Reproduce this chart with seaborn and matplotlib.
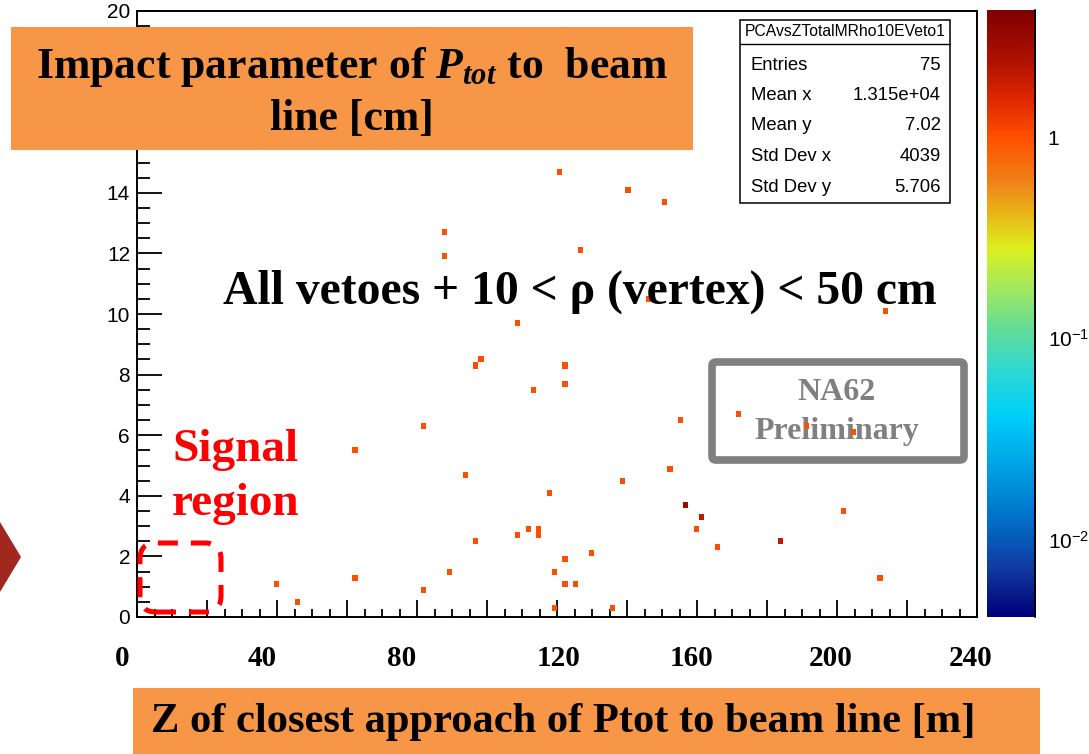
import numpy as np
import matplotlib
matplotlib.use("Agg")
import matplotlib.pyplot as plt
import seaborn as sns
from matplotlib.colors import LogNorm, LinearSegmentedColormap
from matplotlib.patches import Rectangle, FancyBboxPatch, Polygon
from matplotlib.lines import Line2D
from matplotlib.ticker import MultipleLocator, LogLocator, NullFormatter
from matplotlib.transforms import ScaledTranslation

# ---------------- data ----------------
# Z of closest approach [m]
z_m = [100.6, 121.1, 140.3, 150.3, 127.1, 87.4, 87.4, 108.0, 98.3, 97.1,
       112.9, 81.4, 62.0, 93.4, 96.0, 108.0, 111.7, 114.0, 115.1, 89.7,
       62.0, 39.1, 82.3, 45.4, 122.3, 122.3, 155.1, 172.0, 190.6, 205.4,
       214.3, 146.6, 152.6, 138.3, 117.7,
       157.4, 157.4, 157.4,
       160.9, 160.9,
       159.7, 165.7,
       184.0, 184.0,
       202.0, 211.7, 129.7, 122.3, 118.9, 122.3, 124.9, 118.9, 135.7]
# impact parameter [cm]
pca_cm = [15.48, 14.69, 14.09, 13.70, 12.08, 12.71, 11.88, 9.67, 8.48, 8.28,
          7.46, 6.27, 5.45, 4.65, 2.48, 2.67, 2.87, 2.87, 2.67, 1.49,
          1.29, 1.09, 0.89, 0.46, 8.28, 7.66, 6.47, 6.77, 6.27, 6.07,
          10.10, 10.53, 4.88, 4.49, 4.09,
          3.66, 3.66, 3.66,
          3.30, 3.30,
          2.87, 2.28,
          2.48, 2.48,
          3.50, 1.29, 2.08, 1.88, 1.49, 1.09, 1.09, 0.26, 0.26]

xtick_vals = [0, 40, 80, 120, 160, 200, 240]
xtick_labels = ["0", "40", "80", "120", "160", "200", "240"]
ytick_vals = [0, 2, 4, 6, 8, 10, 12, 14, 16, 18, 20]
# 16 and 18 are hidden behind the title box in the reference
ytick_labels = ["0", "2", "4", "6", "8", "10", "12", "14", "", "", "20"]
cbar_ticks = [0.01, 0.1, 1]
cbar_labels = [r"$10^{-2}$", r"$10^{-1}$", "1"]
hist_name = "PCAvsZTotalMRho10EVeto1"
stats_names = ["Entries", "Mean x", "Mean y", "Std Dev x", "Std Dev y"]
stats_values = ["75", "1.315e+04", "7.02", "4039", "5.706"]

# ---------------- style ----------------
sns.set_style("ticks")
plt.rcParams["font.family"] = ["Liberation Sans", "DejaVu Sans"]
plt.rcParams["mathtext.fontset"] = "custom"
plt.rcParams["mathtext.rm"] = "Liberation Sans"
plt.rcParams["mathtext.it"] = "Liberation Serif:italic:bold"
plt.rcParams["mathtext.bf"] = "Liberation Serif:bold"
for k in ["text.color", "axes.labelcolor", "xtick.color", "ytick.color",
          "axes.edgecolor"]:
    plt.rcParams[k] = "black"

W, H = 1089, 754
fig = plt.figure(figsize=(W / 100, H / 100), dpi=100)
fig.patch.set_facecolor("white")


def fx(px):
    return px / W


def fy(py):
    return 1 - py / H


ax = fig.add_axes([fx(137), fy(617), fx(977) - fx(137), fy(11) - fy(617)])
cax = fig.add_axes([fx(987), fy(617), fx(1035) - fx(987), fy(10) - fy(617)])

cmap = LinearSegmentedColormap.from_list("rootpal", [
    (0.0, "#000078"), (0.077, "#1038a0"), (0.16, "#0070c8"), (0.259, "#00a8e8"),
    (0.336, "#00d0f8"), (0.407, "#30d8d0"), (0.473, "#60dc98"), (0.539, "#a0e860"),
    (0.608, "#dcf020"), (0.662, "#e8b818"), (0.72, "#f08018"), (0.79, "#ff5000"),
    (0.852, "#e02800"), (0.918, "#b01000"), (1.0, "#800000")])

sns.histplot(x=z_m, y=pca_cm, bins=(160, 100), binrange=((0, 240), (0, 20)),
             cmap=cmap, ax=ax, cbar=False)
mesh = ax.collections[0]
mesh.set_norm(LogNorm(vmin=0.00415, vmax=4.27))

ax.set_xlim(0, 240)
ax.set_ylim(0, 20)
ax.set_xlabel("")
ax.set_ylabel("")

major_x = np.arange(0, 241, 20)
lab_map = dict(zip(xtick_vals, xtick_labels))
ax.set_xticks(major_x, labels=[lab_map.get(int(v), "") for v in major_x],
              fontfamily="Liberation Serif", fontweight="bold", fontsize=21)
ax.xaxis.set_minor_locator(MultipleLocator(5))
ax.set_yticks(ytick_vals, labels=ytick_labels, fontsize=15)
ax.yaxis.set_minor_locator(MultipleLocator(0.5))
ax.tick_params(axis="x", which="major", direction="in", length=12, width=1.3,
               pad=20, top=False, bottom=True)
ax.tick_params(axis="x", which="minor", direction="in", length=6, width=1.3,
               top=False, bottom=True)
ax.tick_params(axis="y", which="major", direction="in", length=18, width=1.3,
               pad=5, left=True, right=False)
ax.tick_params(axis="y", which="minor", direction="in", length=9, width=1.3,
               left=True, right=False)
for s in ax.spines.values():
    s.set_linewidth(1.4)
    s.set_color("black")
    s.set_visible(True)

# the slide's overlaid x labels sit slightly off the tick positions
x_label_shift_px = {0: -15, 40: -15, 80: -15, 120: 2, 160: -6, 200: -6, 240: -6}
for tick, v in zip(ax.xaxis.get_major_ticks(), major_x):
    dx = x_label_shift_px.get(int(v), 0)
    lab = tick.label1
    lab.set_transform(lab.get_transform() +
                      ScaledTranslation(dx / 100, 0, fig.dpi_scale_trans))

# colour bar
cb = fig.colorbar(mesh, cax=cax)
cb.outline.set_visible(False)
cb.set_ticks(cbar_ticks, labels=cbar_labels)
cax.yaxis.set_minor_locator(LogLocator(base=10, subs=np.arange(2, 10)))
cax.yaxis.set_minor_formatter(NullFormatter())
cax.tick_params(axis="y", which="major", direction="in", length=18, width=1.2,
                labelsize=15, pad=9, right=True, left=False)
cax.tick_params(axis="y", which="minor", direction="in", length=9, width=1.2,
                right=True, left=False)
cax.add_line(Line2D([1, 1], [0, 1], transform=cax.transAxes, color="black",
                    lw=1.4, clip_on=False))

# ---------------- annotations ----------------
orange = "#F79646"
serif = "Liberation Serif"

# y-axis title box
fig.add_artist(Rectangle((fx(11), fy(150)), (693 - 11) / W, (150 - 27) / H,
                         transform=fig.transFigure, facecolor=orange,
                         edgecolor="none", zorder=5))
fig.text(fx(352), fy(92), "Impact parameter of $P_{tot}$ to  beam\nline [cm]",
         ha="center", va="center", multialignment="center", fontsize=31.5,
         fontfamily=serif, fontweight="bold", linespacing=1.34, zorder=6)

# x-axis title box
fig.add_artist(Rectangle((fx(133), fy(760)), (1040 - 133) / W, (760 - 688) / H,
                         transform=fig.transFigure, facecolor=orange,
                         edgecolor="none", zorder=5))
fig.text(fx(563), fy(722), "Z of closest approach of Ptot to beam line [m]",
         ha="center", va="center", fontsize=30.6, fontfamily=serif,
         fontweight="bold", zorder=6)

# selection text
fig.text(fx(580), fy(292), "All vetoes + 10 < \u03c1 (vertex) < 50 cm",
         ha="center", va="center", fontsize=34.3, fontfamily=serif,
         fontweight="bold", zorder=6)

# signal region
fig.text(fx(172), fy(477), "Signal\nregion", ha="left", va="center",
         multialignment="left", fontsize=34, fontfamily=serif,
         fontweight="bold", color="#FF0000", linespacing=1.37, zorder=6)
fig.add_artist(FancyBboxPatch((fx(140), fy(612)), (221 - 140) / W, (612 - 543) / H,
                              boxstyle=f"round,pad=0,rounding_size={16 / W}",
                              mutation_aspect=W / H, transform=fig.transFigure,
                              fill=False, edgecolor="#FF0000", lw=3.6,
                              linestyle=(0, (4, 2.6)), zorder=6))

# NA62 preliminary
ax.text(fx(837), fy(412), "NA62\nPreliminary", transform=fig.transFigure,
        ha="center", va="center", multialignment="center", fontsize=23,
        fontfamily=serif, fontweight="bold", color="#808080", linespacing=1.42,
        zorder=0.5)
fig.add_artist(FancyBboxPatch((fx(712), fy(460)), (964 - 712) / W, (460 - 362) / H,
                              boxstyle=f"round,pad=0,rounding_size={4 / W}",
                              mutation_aspect=W / H, transform=fig.transFigure,
                              fill=False, edgecolor="#808080", lw=5.5, zorder=6))

# stats box
fig.add_artist(Rectangle((fx(740), fy(203)), (950 - 740) / W, (203 - 20) / H,
                         transform=fig.transFigure, facecolor="white",
                         edgecolor="black", lw=1.1, zorder=6))
fig.add_artist(Line2D([fx(740), fx(950)], [fy(44), fy(44)],
                      transform=fig.transFigure, color="black", lw=1.0, zorder=7))
fig.text(fx(845), fy(32), hist_name, ha="center", va="center", fontsize=11.3,
         zorder=7)
for i, (nm, val) in enumerate(zip(stats_names, stats_values)):
    yy = 65 + i * 30.5
    fig.text(fx(751), fy(yy), nm, ha="left", va="center", fontsize=13.3, zorder=7)
    fig.text(fx(941), fy(yy), val, ha="right", va="center", fontsize=13.3, zorder=7)

# slide decoration triangle
fig.add_artist(Polygon([(0, fy(522)), (fx(21), fy(557)), (0, fy(592))],
                       closed=True, transform=fig.transFigure,
                       facecolor="#A0281E", edgecolor="none", zorder=6))

fig.savefig("out.png", dpi=100)
